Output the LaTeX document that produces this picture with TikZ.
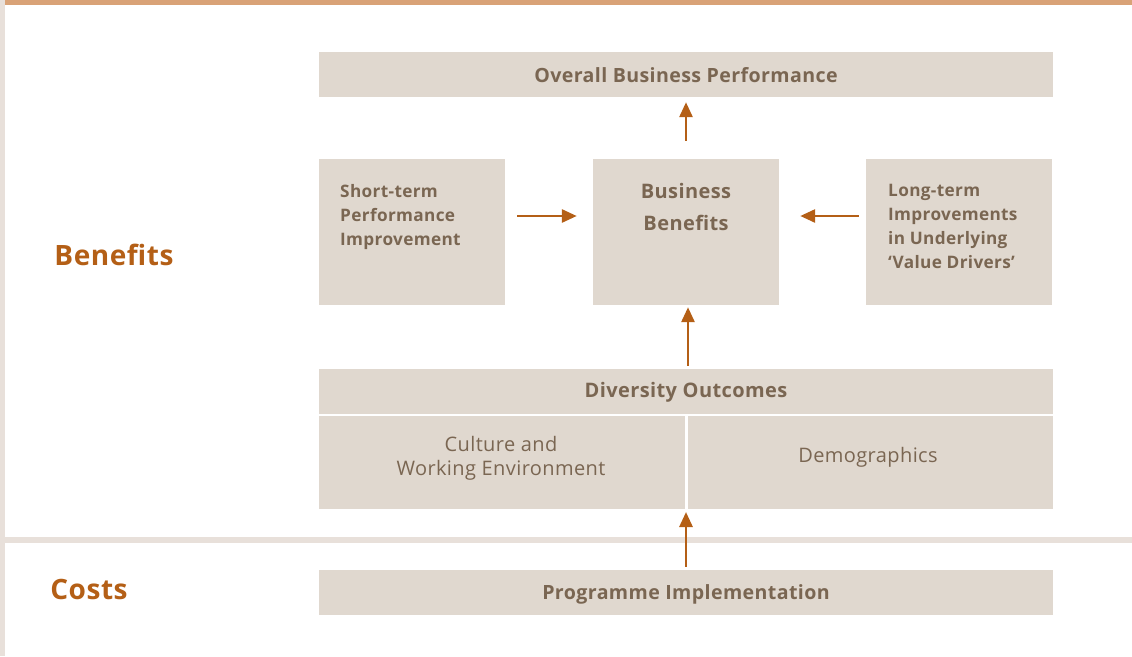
\documentclass[tikz,border=0pt]{standalone}
\usepackage{fontspec}
\setmainfont{Open Sans}[LetterSpace=2]
\usetikzlibrary{arrows.meta,positioning}
\definecolor{boxfill}{HTML}{E0D8CF}
\definecolor{boxtext}{HTML}{7A6652}
\definecolor{rust}{HTML}{B45F16}
\definecolor{topbar}{HTML}{D9A277}
\definecolor{edgebar}{HTML}{E8E0DA}

\begin{document}
\begin{tikzpicture}[x=1pt,y=-1pt,
		box/.style={rectangle,fill=boxfill,inner sep=0pt},
		wide box/.style={box,minimum width=734pt,minimum height=45pt},
		square box/.style={box,minimum width=186pt,minimum height=146pt},
		half box/.style={box,minimum height=93pt},
		head/.style={font=\fontsize{19.6}{24}\selectfont\bfseries,text=boxtext,inner sep=0pt},
		small head/.style={head,font=\fontsize{17.2}{24}\selectfont\bfseries,align=left,anchor=north west},
		plain/.style={font=\fontsize{20}{24}\selectfont,text=boxtext,inner sep=0pt},
		side/.style={font=\fontsize{28}{30}\selectfont\bfseries,text=rust,inner sep=0pt},
		up arrow/.style={line width=2.8pt,draw=rust,-{Triangle[length=15pt,width=13pt]}}
	]
	\useasboundingbox (0,0) rectangle (1132,656);
	% frame
	\fill[edgebar] (0,0) rectangle (5,656);
	\fill[topbar] (5,0) rectangle (1132,5);
	\fill[edgebar] (5,537) rectangle (1132,543);

	\node[side] (benefits) at (114,255) {Benefits};
	\node[side] (costs) at (89,589) {Costs};

	% boxes
	\node[wide box] (overall) at (686,74.5) {};
	\node[square box] (short) at (412,232) {};
	\node[square box] (bb) at (686,232) {};
	\node[square box] (long) at (959,232) {};
	\node[wide box] (outcomes) at (686,391.5) {};
	\node[half box,minimum width=366pt] (culture) at (502,462.5) {};
	\node[half box,minimum width=365pt] (demog) at (870.5,462.5) {};
	\node[wide box] (prog) at (686,592.5) {};
	\coordinate (outbase) at (686,509);

	% texts
	\node[head] (overall text) at (686,75) {Overall Business Performance};
	\node[small head] (short text) at (340,184) {Short-term\\Performance\\Improvement};
	\node[head,font=\fontsize{20}{32}\selectfont\bfseries,align=center,anchor=north] (bb text) at (686,183) {Business\\Benefits};
	\node[small head] (long text) at (888,184) {Long-term\\Improvements\\in Underlying\\‘Value Drivers’};
	\node[head,font=\fontsize{20}{24}\selectfont\bfseries] (outcomes text) at (686,392) {Diversity Outcomes};
	\node[plain,align=center] (culture text) at (501,458) {Culture and\\Working Environment};
	\node[plain] (demog text) at (868,457) {Demographics};
	\node[head] (prog text) at (686,594) {Programme Implementation};

	% arrows
	\draw[up arrow,shorten <=18pt,shorten >=5pt] (bb.north) -- (overall.south);
	\draw[up arrow,shorten <=12pt,shorten >=16pt] ([yshift=16pt]short.east) -- ([yshift=16pt]bb.west);
	\draw[up arrow,shorten <=7pt,shorten >=21pt] ([yshift=16pt]long.west) -- ([yshift=16pt]bb.east);
	\draw[up arrow,shorten <=3pt,shorten >=2pt] ([xshift=2pt]outcomes.north) -- ([xshift=2pt]bb.south);
	\draw[up arrow,shorten <=3pt,shorten >=3pt] (prog.north) -- (outbase);
\end{tikzpicture}
\end{document}
